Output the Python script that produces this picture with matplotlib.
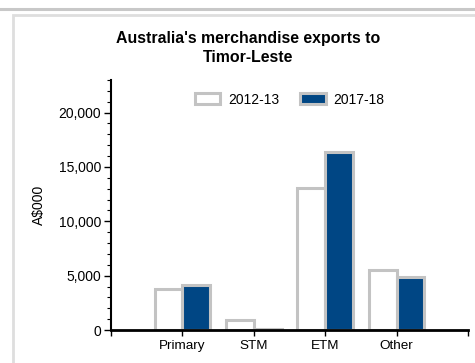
"""Australia's merchandise exports to Timor-Leste, grouped bar chart."""

import matplotlib
matplotlib.use("Agg")
import matplotlib.patches as mpatches
import matplotlib.pyplot as plt
import numpy as np
from matplotlib.lines import Line2D
from matplotlib.ticker import FuncFormatter, MultipleLocator

# ── Data (A$000) ───────────────────────────────────────────
categories = ["Primary", "STM", "ETM", "Other"]
series_names = ["2012-13", "2017-18"]
exports_2012 = [3800, 950, 13100, 5500]
exports_2017 = [4100, 100, 16400, 4900]

BLUE = "#004684"
EDGE = "#c3c3c3"

plt.rcParams["font.family"] = ["Liberation Sans", "DejaVu Sans"]

fig = plt.figure(figsize=(4.75, 3.63), dpi=100)

# Page rule and panel frame around the chart
fig.add_artist(Line2D([0, 1], [1 - 9 / 363] * 2, transform=fig.transFigure,
                      color="#c8c8c8", lw=2.2))
fig.add_artist(mpatches.Rectangle((13 / 475, -0.1), 1.0, 1 - 15 / 363 + 0.1,
                                  transform=fig.transFigure, fill=False,
                                  edgecolor="#dedede", lw=2.0))

ax = fig.add_axes([111 / 475, 33 / 363, 357 / 475, 250 / 363])

x = np.arange(len(categories))
width = 0.39
ax.bar(x - width / 2, exports_2012, width, color="white", edgecolor=EDGE,
       linewidth=2.2, label=series_names[0], zorder=2)
ax.bar(x + width / 2, exports_2017, width, color=BLUE, edgecolor=EDGE,
       linewidth=2.2, label=series_names[1], zorder=2)

ax.set_xlim(-1, 4)
ax.set_ylim(0, 23000)

ax.set_xticks(x)
ax.set_xticklabels(categories, fontsize=9.7)
ax.set_xticks([-1, 4], minor=True)
ax.tick_params(axis="x", which="both", direction="out", length=4, width=1,
               pad=3)

ax.yaxis.set_major_locator(MultipleLocator(5000))
ax.yaxis.set_minor_locator(MultipleLocator(1000))
ax.yaxis.set_major_formatter(FuncFormatter(lambda v, _: f"{v:,.0f}"))
ax.tick_params(axis="y", which="major", direction="out", length=5, width=1,
               labelsize=10, pad=2)
ax.tick_params(axis="y", which="minor", direction="out", length=3, width=0.8)

for side in ("top", "right"):
    ax.spines[side].set_visible(False)
ax.spines["left"].set_linewidth(1.5)
ax.spines["bottom"].set_linewidth(2)
ax.spines["bottom"].set_zorder(3)

ax.set_ylabel("A$000", fontsize=10)
ax.yaxis.set_label_coords(-0.182, 0.5)

ax.legend(loc="upper center", bbox_to_anchor=(0.5, 1.0), ncol=2,
          frameon=False, fontsize=10, handlelength=1.85, handleheight=0.85,
          columnspacing=1.5, handletextpad=0.55)

fig.text(248 / 475, 1 - 48 / 363, "Australia's merchandise exports to\nTimor-Leste",
         ha="center", va="center", fontsize=11.4, fontweight="bold",
         linespacing=1.35)

fig.savefig("out.png", dpi=100, facecolor="white")
